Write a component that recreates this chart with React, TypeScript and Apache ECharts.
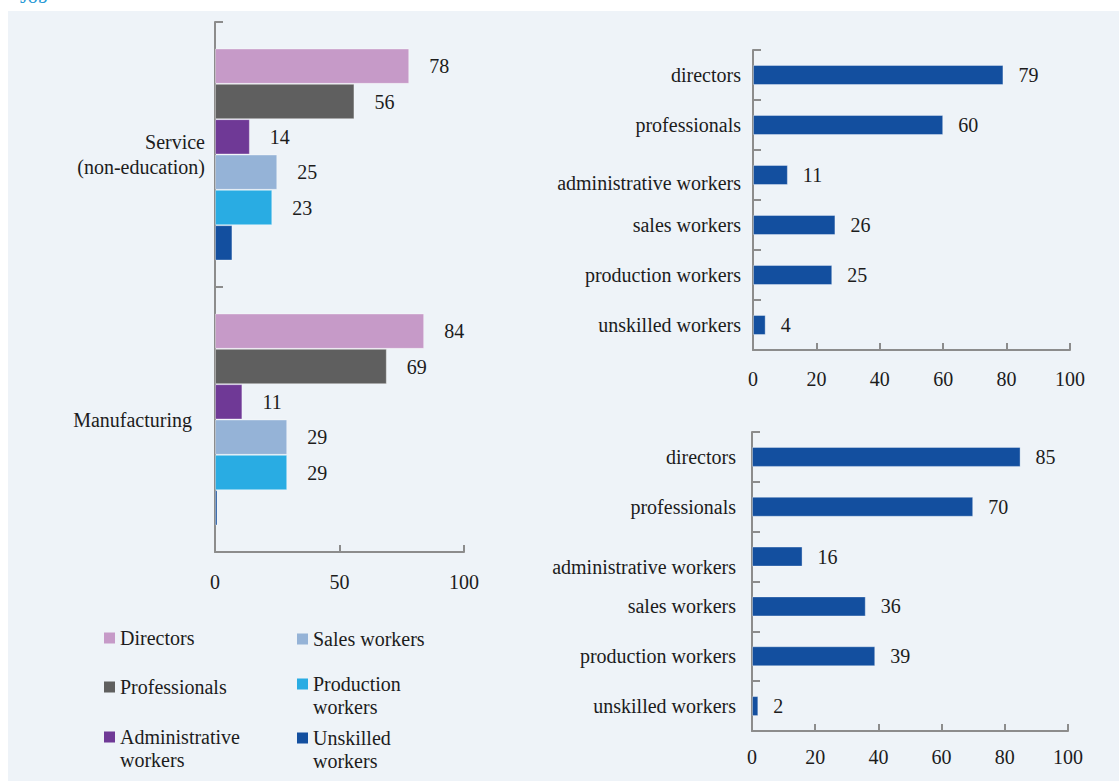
import React, { useEffect, useRef } from "react";
import * as echarts from "echarts";

// ---- data ----
const sectorCategories = ["Service\n(non-education)", "Manufacturing"];
const jobNames = [
  "Directors",
  "Professionals",
  "Administrative workers",
  "Sales workers",
  "Production workers",
  "Unskilled workers",
];
const directorsValues = [78, 84];
const professionalsValues = [56, 69];
const administrativeValues = [14, 11];
const salesValues = [25, 29];
const productionValues = [23, 29];
const unskilledValues = [7, 1];
const labelledJobs = [true, true, true, true, true, false];

const occupationCategories = [
  "directors",
  "professionals",
  "administrative workers",
  "sales workers",
  "production workers",
  "unskilled workers",
];
const serviceShares = [79, 60, 11, 26, 25, 4];
const manufacturingShares = [85, 70, 16, 36, 39, 2];

const leftAxisMax = 100;
const leftAxisInterval = 50;
const rightAxisMax = 100;
const rightAxisInterval = 20;

const jobColors = ["#c69ac8", "#5f5f5f", "#6f3996", "#95b3d7", "#29ace3", "#134f9f"];
const rightBarColor = "#134f9f";

const FONT = "'Liberation Serif', 'Times New Roman', serif";
const TEXT = "#1c1c1c";
const AXIS = "#8c8c8c";

export default function App() {
  const ref = useRef<HTMLDivElement>(null);

  useEffect(() => {
    if (!ref.current) return;
    const chart = echarts.init(ref.current, undefined, { renderer: "svg" });

    const jobValues = [
      directorsValues,
      professionalsValues,
      administrativeValues,
      salesValues,
      productionValues,
      unskilledValues,
    ];

    const baseText = { color: TEXT, fontFamily: FONT, fontSize: 20 };

    const valueAxis = (gridIndex: number, max: number, interval: number, margin: number) => ({
      type: "value",
      gridIndex,
      min: 0,
      max,
      interval,
      axisLine: { show: true, lineStyle: { color: AXIS, width: 2 } },
      axisTick: { show: true, inside: true, length: 7, lineStyle: { color: AXIS, width: 2 } },
      splitLine: { show: false },
      axisLabel: { ...baseText, margin },
    });

    const catAxis = (
      gridIndex: number,
      data: string[],
      margin: number,
      special: string,
      specialPadding: number[]
    ) => ({
      type: "category",
      gridIndex,
      data,
      inverse: true,
      axisLine: { show: true, lineStyle: { color: AXIS, width: 2 } },
      axisTick: { show: true, inside: true, length: 8, lineStyle: { color: AXIS, width: 2 } },
      axisLabel: {
        ...baseText,
        margin,
        lineHeight: 25,
        align: "right",
        formatter: (v: string) => (v === special ? `{s|${v}}` : v),
        rich: { s: { ...baseText, lineHeight: 25, padding: specialPadding } },
      },
    });

    const leftSeries = jobNames.map((name, i) => ({
      type: "bar",
      name,
      xAxisIndex: 0,
      yAxisIndex: 0,
      data: jobValues[i],
      barGap: "0%",
      barCategoryGap: "20%",
      itemStyle: { color: jobColors[i], borderColor: "rgba(255,255,255,0.35)", borderWidth: 1 },
      label: { show: labelledJobs[i], position: "right", distance: 20, ...baseText },
    }));

    const rightSeries = (idx: number, data: number[], name: string) => ({
      type: "bar",
      name,
      xAxisIndex: idx,
      yAxisIndex: idx,
      data,
      barWidth: 20,
      itemStyle: { color: rightBarColor, borderColor: "rgba(255,255,255,0.35)", borderWidth: 1 },
      label: { show: true, position: "right", distance: 15, ...baseText },
    });

    const legendPos = [
      { left: 104, cy: 638 },
      { left: 104, cy: 687 },
      { left: 104, cy: 737 },
      { left: 297, cy: 639 },
      { left: 297, cy: 684 },
      { left: 297, cy: 738 },
    ];
    const legendText = [
      "Directors",
      "Professionals",
      "Administrative\nworkers",
      "Sales workers",
      "Production\nworkers",
      "Unskilled\nworkers",
    ];
    // square at the top of a taller item box, so the icon sits beside the first line
    const topSquareIcon = "path://M0,0L11,0L11,11L0,11Z M0,34L0.001,34L0,34.001Z";

    const legends = jobNames.map((name, i) => {
      const twoLine = legendText[i].includes("\n");
      return {
        data: [name],
        orient: "vertical",
        left: legendPos[i].left,
        top: legendPos[i].cy - (twoLine ? 11.5 : 11.5),
        padding: 0,
        itemWidth: 11,
        itemHeight: twoLine ? 34 : 11,
        itemGap: 0,
        icon: twoLine ? topSquareIcon : "rect",
        itemStyle: { borderWidth: 0 },
        selectedMode: false,
        formatter: () => legendText[i],
        textStyle: { ...baseText, lineHeight: 23 },
      };
    });

    chart.setOption({
      animation: false,
      backgroundColor: "#ffffff",
      graphic: [
        {
          type: "rect",
          z: -10,
          silent: true,
          shape: { x: 8, y: 11, width: 1111, height: 770 },
          style: { fill: "#eef3f8" },
        },
        {
          type: "text",
          x: 20,
          y: 6,
          silent: true,
          style: {
            text: "Job",
            fill: "#2a9ad6",
            font: `20px ${FONT}`,
            verticalAlign: "bottom",
          },
        },
      ],
      legend: legends,
      grid: [
        { left: 215, top: 22, width: 249, height: 530, containLabel: false },
        { left: 753, top: 50, width: 317, height: 300, containLabel: false },
        { left: 752, top: 432, width: 316, height: 299, containLabel: false },
      ],
      xAxis: [
        valueAxis(0, leftAxisMax, leftAxisInterval, 20),
        valueAxis(1, rightAxisMax, rightAxisInterval, 19),
        valueAxis(2, rightAxisMax, rightAxisInterval, 16),
      ],
      yAxis: [
        catAxis(0, sectorCategories, 10, "Manufacturing", [0, 13, 0, 0]),
        catAxis(1, occupationCategories, 12, "administrative workers", [16, 0, 0, 0]),
        catAxis(2, occupationCategories, 16, "administrative workers", [20, 0, 0, 0]),
      ],
      series: [
        ...leftSeries,
        rightSeries(1, serviceShares, "Service (non-education) by occupation"),
        rightSeries(2, manufacturingShares, "Manufacturing by occupation"),
      ],
    });

    return () => chart.dispose();
  }, []);

  return (
    <div
      ref={ref}
      style={{ position: "fixed", left: 0, top: 0, width: 1119, height: 781 }}
    />
  );
}
